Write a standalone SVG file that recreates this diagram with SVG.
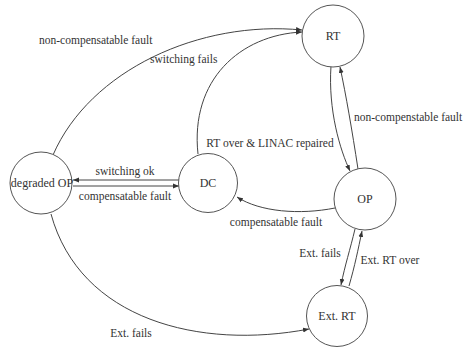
<svg xmlns="http://www.w3.org/2000/svg" width="463" height="349" viewBox="0 0 463 349">
<defs>
<marker id="arr" viewBox="0 0 10 10" refX="10" refY="5" markerWidth="6" markerHeight="6" orient="auto" markerUnits="userSpaceOnUse">
<path d="M0,1 L10,5 L0,9 z" fill="#333"/>
</marker>
<style>
.n{fill:#fff;stroke:#555;stroke-width:1}
.e{fill:none;stroke:#444;stroke-width:1;marker-end:url(#arr)}
text{font-family:"Liberation Serif","Times New Roman",serif;fill:#333}
.nl{font-size:12px;text-anchor:middle}
.el{font-size:11.5px}
.c{text-anchor:middle}
</style>
</defs>
<rect width="463" height="349" fill="#fff"/>
<g id="edges">
<path class="e" d="M53,155 C90,70 200,20 302,30"/>
<path class="e" d="M198,154 C190,80 240,35 302,32"/>
<path class="e" d="M331,66 C328,110 340,150 350,171"/>
<path class="e" d="M358,169 C352,130 346,95 340,67"/>
<path class="e" d="M180,180 L73,180"/>
<path class="e" d="M73,186 L179,186"/>
<path class="e" d="M335,208 C300,215 260,212 237,197"/>
<path class="e" d="M355,229 C350,250 345,265 341,285"/>
<path class="e" d="M349,286 C355,265 358,250 362,231"/>
<path class="e" d="M51,214 C80,320 200,350 309,329"/>
<text class="el" x="39" y="44">non-compensatable fault</text>
<text class="el" x="150" y="63">switching fails</text>
<text class="el c" x="270" y="147">RT over &amp; LINAC repaired</text>
<text class="el" x="354" y="121">non-compenstable fault</text>
<text class="el c" x="125" y="175">switching ok</text>
<text class="el c" x="125" y="200">compensatable fault</text>
<text class="el c" x="276" y="226">compensatable fault</text>
<text class="el c" x="320" y="257">Ext. fails</text>
<text class="el c" x="390" y="264">Ext. RT over</text>
<text class="el c" x="131" y="337">Ext. fails</text>
</g>
<g id="RT"><circle class="n" cx="333" cy="36" r="31"/><text class="nl" x="333" y="40">RT</text></g>
<g id="DC"><circle class="n" cx="208" cy="183" r="29.5"/><text class="nl" x="208" y="187">DC</text></g>
<g id="degradedOP"><circle class="n" cx="41" cy="183" r="31"/><text class="nl" x="42" y="187">degraded OP</text></g>
<g id="OP"><circle class="n" cx="365" cy="199" r="31"/><text class="nl" x="365" y="203">OP</text></g>
<g id="ExtRT"><circle class="n" cx="337" cy="316" r="30.5"/><text class="nl" x="337" y="320">Ext. RT</text></g>
</svg>
